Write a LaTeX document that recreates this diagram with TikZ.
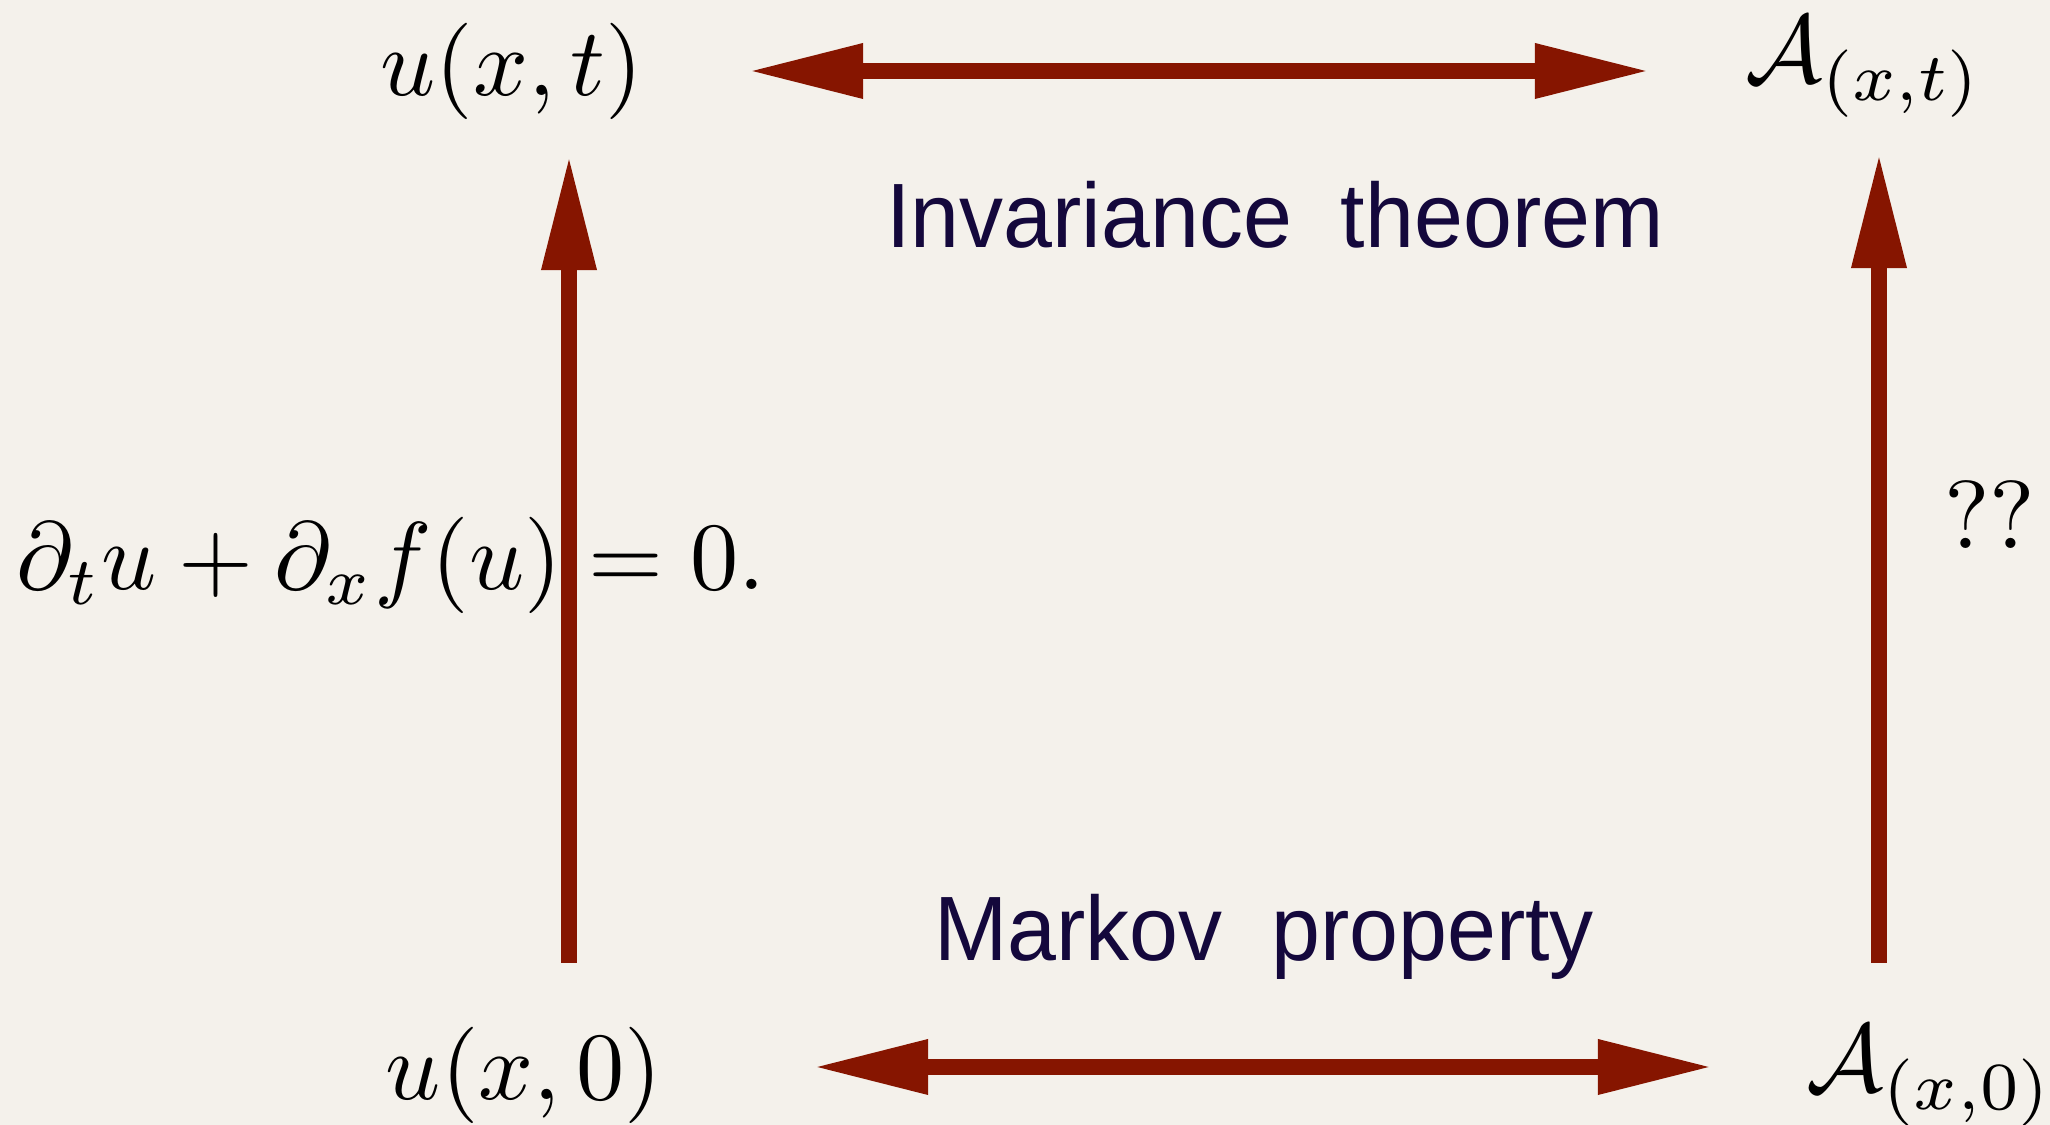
\documentclass[tikz,border=0pt]{standalone}
\usepackage{graphicx}
\usepackage{fontspec}
\usetikzlibrary{arrows.meta}
\newfontfamily\lblfont[FakeStretch=0.962]{Liberation Sans}
\newcommand\mbx[1]{\scalebox{2.74}{$#1$}}
\definecolor{bgc}{HTML}{F4F1EB}
\definecolor{arc}{HTML}{861500}
\definecolor{txc}{HTML}{14083C}
\tikzset{
  mth/.style={inner sep=0pt, anchor=base},
  lbl/.style={inner sep=0pt, anchor=base, text=txc, font=\lblfont\fontsize{26}{30}\selectfont},
  bigarrow/.style={draw=arc, line width=0.16cm, -{Triangle[length=1.15cm,width=0.51cm]}},
  dblarrow/.style={draw=arc, line width=0.16cm, {Triangle[length=1.15cm,width=0.51cm]}-{Triangle[length=1.15cm,width=0.51cm]}},
}
\begin{document}
\begin{tikzpicture}[x=0.01cm,y=-0.01cm]
\fill[bgc] (0,0) rectangle (2050,1125);
\useasboundingbox (0,0) rectangle (2050,1125);
% corner terms
\node[mth] (ut) at (512,96) {\mbx{u(x,t)}};
\node[mth] (at) at (1864,83) {\mbx{\mathcal{A}_{(x,t)}}};
\node[mth] (u0) at (524,1100) {\mbx{u(x,0)}};
\node[mth] (a0) at (1930,1092) {\mbx{\mathcal{A}_{(x,0)}}};
% labels
\node[mth, anchor=base west] (eq) at (16,590) {\mbx{\partial_t u + \partial_x f(u) = 0.}};
\node[mth] (qq) at (1990,549) {\mbx{\mathrm{??}}};
\node[lbl] (inv) at (1275,248) {Invariance\ \ theorem};
\node[lbl] (mar) at (1264,961) {Markov\ \ property};
% arrow end points
\coordinate (tl) at (748,71);
\coordinate (tr) at (1650,71);
\coordinate (bl) at (813,1067);
\coordinate (br) at (1713,1067);
\coordinate (lb) at (569,963);
\coordinate (lt) at (569,155);
\coordinate (rb) at (1879,963);
\coordinate (rt) at (1879,153);
% connectors
\draw[dblarrow] (tl) -- (tr);
\draw[dblarrow] (bl) -- (br);
\draw[bigarrow] (lb) -- (lt);
\draw[bigarrow] (rb) -- (rt);
\end{tikzpicture}
\end{document}
